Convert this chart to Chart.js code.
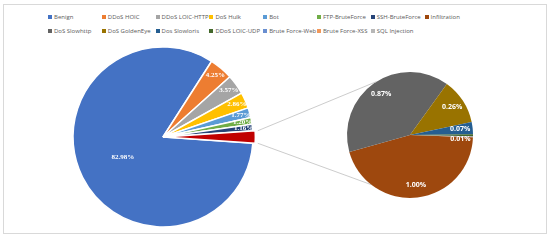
<!DOCTYPE html>
<html>
<head>
<meta charset="utf-8">
<script src="https://cdn.jsdelivr.net/npm/chart.js@4.4.1/dist/chart.umd.min.js"></script>
<style>
  html, body { margin: 0; padding: 0; background: #fff; }
  #wrap { position: relative; width: 550px; height: 240px; overflow: hidden; font-family: "Open Sans", sans-serif; }
  #frame { position: absolute; left: 3px; top: 4px; width: 542px; height: 228px; border: 1px solid #d9d9d9; }
  #legend { position: absolute; left: 48px; top: 11px; display: grid; grid-template-columns: repeat(8, 53.8px); row-gap: 3px; font-size: 6px; color: #595959; }
  .item { display: flex; align-items: center; white-space: nowrap; height: 11px; }
  .sw { width: 4px; height: 4px; margin-right: 2px; flex: none; }
  canvas { position: absolute; left: 0; top: 0; }
</style>
</head>
<body>
<div id="wrap">
  <div id="frame"></div>
  <div id="legend"></div>
  <canvas id="mainPie" width="550" height="240"></canvas>
  <canvas id="restPie" width="550" height="240"></canvas>
</div>
<script>
"use strict";

// big pie
const mainLabels = ["Benign", "DDoS HOIC", "DDoS LOIC-HTTP", "DoS Hulk", "Bot", "FTP-BruteForce", "SSH-BruteForce"];
const mainValues = [82.98, 4.25, 3.57, 2.86, 1.77, 1.20, 1.16];
const mainColors = ["#4472C4", "#ED7D31", "#A5A5A5", "#FFC000", "#5B9BD5", "#70AD47", "#264478"];

// small pie (split out of the big one)
const restLabels = ["Infiltration", "DoS Slowhttp", "DoS GoldenEye", "Dos Slowloris", "DDoS LOIC-UDP", "Brute Force-Web", "Brute Force-XSS", "SQL Injection"];
const restValues = [1.00, 0.87, 0.26, 0.07, 0.01, 0.004, 0.001, 0.001];
const restColors = ["#9E480E", "#636363", "#997300", "#255E91", "#43682B", "#698ED0", "#F1975A", "#B7B7B7"];

const otherColor = "#C00000";
const otherValue = restValues.reduce((a, b) => a + b, 0);

// legend
const legendEl = document.getElementById("legend");
mainLabels.concat(restLabels).forEach((name, i) => {
  const color = mainColors.concat(restColors)[i];
  const item = document.createElement("div");
  item.className = "item";
  item.innerHTML = '<span class="sw" style="background:' + color + '"></span>' + name;
  legendEl.appendChild(item);
});

// white % labels on the slices
const sliceLabels = {
  id: "sliceLabels",
  afterDatasetsDraw(chart, args, opts) {
    const ctx = chart.ctx;
    const arcs = chart.getDatasetMeta(0).data;
    const values = chart.data.datasets[0].data;
    ctx.save();
    ctx.font = opts.font;
    ctx.fillStyle = "#fff";
    ctx.textAlign = "center";
    ctx.textBaseline = "middle";
    let lastY = -100;
    arcs.forEach((arc, i) => {
      if (i >= opts.count) return;
      const mid = (arc.startAngle + arc.endAngle) / 2;
      const r = arc.outerRadius * (i === 0 && opts.firstRadius ? opts.firstRadius : opts.radius);
      const x = arc.x + Math.cos(mid) * r;
      let y = arc.y + Math.sin(mid) * r;
      if (i > 0 && y - lastY < opts.minGap && y > lastY - opts.minGap) y = lastY + opts.minGap;
      lastY = y;
      ctx.fillText(values[i].toFixed(2) + "%", x, y);
    });
    ctx.restore();
  }
};

let mainChart = new Chart(document.getElementById("mainPie"), {
  type: "pie",
  data: {
    labels: mainLabels.concat(["Other"]),
    datasets: [{
      data: mainValues.concat([otherValue]),
      backgroundColor: mainColors.concat([otherColor]),
      borderColor: "#fff",
      borderWidth: 1.5,
      offset: mainValues.map(() => 0).concat([5])
    }]
  },
  options: {
    responsive: false,
    animation: false,
    radius: 90,
    rotation: 90 + otherValue * 3.6 / 2,
    layout: { padding: { left: 63, top: 37, right: 287, bottom: 3 } },
    plugins: {
      legend: { display: false },
      tooltip: { enabled: false },
      sliceLabels: { font: "bold 7px 'Liberation Serif'", count: mainValues.length, radius: 0.9, firstRadius: 0.5, minGap: 0 }
    }
  },
  plugins: [sliceLabels]
});

// grey lines from the split slice to the small pie
const connectors = {
  id: "connectors",
  afterDraw(chart, args, opts) {
    const src = mainChart.getDatasetMeta(0).data[mainValues.length];
    const dst = chart.getDatasetMeta(0).data[0];
    const mid = (src.startAngle + src.endAngle) / 2;
    const off = src.options.offset;
    const cx = src.x + Math.cos(mid) * off;
    const cy = src.y + Math.sin(mid) * off;
    const ends = [
      [src.startAngle, opts.topAngle],
      [src.endAngle, opts.bottomAngle]
    ];
    const ctx = chart.ctx;
    ctx.save();
    ctx.strokeStyle = "#bfbfbf";
    ctx.lineWidth = 0.8;
    ends.forEach(([a, b]) => {
      const t = (b - 90) * Math.PI / 180;
      ctx.beginPath();
      ctx.moveTo(cx + Math.cos(a) * src.outerRadius, cy + Math.sin(a) * src.outerRadius);
      ctx.lineTo(dst.x + Math.cos(t) * dst.outerRadius, dst.y + Math.sin(t) * dst.outerRadius);
      ctx.stroke();
    });
    ctx.restore();
  }
};

let restChart = new Chart(document.getElementById("restPie"), {
  type: "pie",
  data: {
    labels: restLabels,
    datasets: [{
      data: restValues,
      backgroundColor: restColors,
      borderWidth: 0
    }]
  },
  options: {
    responsive: false,
    animation: false,
    radius: 63,
    rotation: 92,
    layout: { padding: { left: 340, top: 65, right: 70, bottom: 35 } },
    plugins: {
      legend: { display: false },
      tooltip: { enabled: false },
      sliceLabels: { font: "bold 7px 'Open Sans'", count: 5, radius: 0.8, minGap: 10 },
      connectors: { topAngle: 328, bottomAngle: 218 }
    }
  },
  plugins: [sliceLabels, connectors]
});
</script>
</body>
</html>
